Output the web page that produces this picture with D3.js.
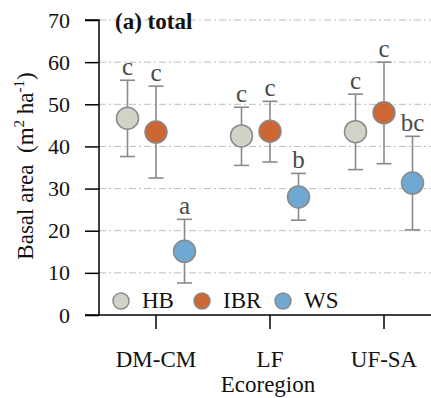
<!DOCTYPE html>
<html><head><meta charset="utf-8">
<script src="https://cdn.jsdelivr.net/npm/d3@7"></script>
<style>body{margin:0;background:#fff}svg{display:block}</style>
</head><body>
<svg id="c" width="431" height="398" font-family="Liberation Serif"></svg>
<script>
const ecoregions = ["DM-CM", "LF", "UF-SA"];
const groups = ["HB", "IBR", "WS"];
const colors = ["#d2d2c6", "#cc6633", "#6fa8d2"];
const means = {HB: [46.7, 42.5, 43.5], IBR: [43.4, 43.6, 48.0], WS: [15.1, 28.0, 31.3]};
const upper = {HB: [55.7, 49.3, 52.4], IBR: [54.3, 50.7, 60.0], WS: [22.7, 33.6, 42.4]};
const lower = {HB: [37.6, 35.5, 34.5], IBR: [32.5, 36.3, 35.9], WS: [7.6, 22.5, 20.2]};
const letters = {HB: ["c", "c", "c"], IBR: ["c", "c", "c"], WS: ["a", "b", "bc"]};
const yTicks = [0, 10, 20, 30, 40, 50, 60, 70];

const FONT = "Liberation Serif";
const svg = d3.select("#c");
const m = {l: 99, r: 431, t: 20, b: 315};
const x = d3.scaleBand().domain(ecoregions).range([99, 441]).padding(0);
const y = d3.scaleLinear().domain([0, 70]).range([m.b, m.t]);
const off = d3.scalePoint().domain(groups).range([-28.5, 28.5]);
const col = d3.scaleOrdinal().domain(groups).range(colors);

// grid
svg.append("g").selectAll("line").data(yTicks.filter(d => d > 0)).join("line")
  .attr("x1", m.l).attr("x2", m.r).attr("y1", d => y(d)).attr("y2", d => y(d))
  .attr("stroke", "#bdbdbd").attr("stroke-width", 1).attr("stroke-dasharray", "7,3,2,3");

// y axis
const ya = svg.append("g").attr("transform", `translate(${m.l},0)`)
  .call(d3.axisLeft(y).tickValues(yTicks).tickSize(14).tickPadding(15));
ya.attr("font-family", FONT);
ya.select(".domain").attr("stroke", "#000").attr("stroke-width", 1.5).attr("d", `M-14,${y(70)}H0V${y(0)}H0`);
ya.selectAll(".tick line").attr("stroke", "#000").attr("stroke-width", 1.5);
ya.selectAll(".tick text").attr("font-size", 22).attr("fill", "#111");

// x axis
const xa = svg.append("g").attr("transform", `translate(0,${m.b})`)
  .call(d3.axisBottom(x).tickSize(14).tickPadding(22));
xa.attr("font-family", FONT);
xa.select(".domain").attr("stroke", "#000").attr("stroke-width", 1.5).attr("d", `M${m.l - 14},0H${m.r}`);
xa.selectAll(".tick line").attr("stroke", "#000").attr("stroke-width", 1.5);
xa.selectAll(".tick text").attr("font-size", 23).attr("fill", "#111");

// axis titles
svg.append("text").attr("x", 268).attr("y", 392).attr("text-anchor", "middle")
  .attr("font-size", 23).attr("fill", "#111").text("Ecoregion");
const yl = svg.append("text").attr("transform", `translate(33,166) rotate(-90)`)
  .attr("text-anchor", "middle").attr("font-size", 23).attr("fill", "#111");
yl.append("tspan").text("Basal area\u00a0\u00a0(m");
yl.append("tspan").attr("font-size", 15).attr("dy", -9).text("2");
yl.append("tspan").attr("dy", 9).text("\u00a0ha");
yl.append("tspan").attr("font-size", 15).attr("dy", -9).text("-1");
yl.append("tspan").attr("dy", 9).text(")");

// title
svg.append("text").attr("x", 115).attr("y", 29).attr("font-size", 23)
  .attr("font-weight", "bold").attr("fill", "#111").text("(a) total");

// data
const pts = [];
groups.forEach(g => ecoregions.forEach((e, i) => pts.push({g, e, m: means[g][i], u: upper[g][i], l: lower[g][i], t: letters[g][i]})));
const px = d => x(d.e) + 57 + off(d.g);

const pg = svg.append("g");
pg.selectAll("line.v").data(pts).join("line").attr("class", "v")
  .attr("x1", px).attr("x2", px).attr("y1", d => y(d.u)).attr("y2", d => y(d.l))
  .attr("stroke", "#8a8a8a").attr("stroke-width", 1.6);
pg.selectAll("line.cu").data(pts).join("line").attr("class", "cu")
  .attr("x1", d => px(d) - 7.5).attr("x2", d => px(d) + 7.5).attr("y1", d => y(d.u)).attr("y2", d => y(d.u))
  .attr("stroke", "#8a8a8a").attr("stroke-width", 1.6);
pg.selectAll("line.cl").data(pts).join("line").attr("class", "cl")
  .attr("x1", d => px(d) - 7.5).attr("x2", d => px(d) + 7.5).attr("y1", d => y(d.l)).attr("y2", d => y(d.l))
  .attr("stroke", "#8a8a8a").attr("stroke-width", 1.6);
pg.selectAll("circle").data(pts).join("circle")
  .attr("cx", px).attr("cy", d => y(d.m)).attr("r", 11)
  .attr("fill", d => col(d.g)).attr("stroke", "#8a8a8a").attr("stroke-width", 1.5);
pg.selectAll("text").data(pts).join("text")
  .attr("x", px).attr("y", d => y(d.u) - 5).attr("text-anchor", "middle")
  .attr("font-size", 25).attr("fill", "#4a4a4a").text(d => d.t);

// legend
const lg = svg.append("g");
const lx = [121, 202, 283];
groups.forEach((g, i) => {
  lg.append("circle").attr("cx", lx[i]).attr("cy", 301).attr("r", 8)
    .attr("fill", col(g)).attr("stroke", "#8a8a8a").attr("stroke-width", 1.5);
  lg.append("text").attr("x", lx[i] + 21).attr("y", 308)
    .attr("font-size", 23).attr("fill", "#111").text(g);
});
</script>
</body></html>
